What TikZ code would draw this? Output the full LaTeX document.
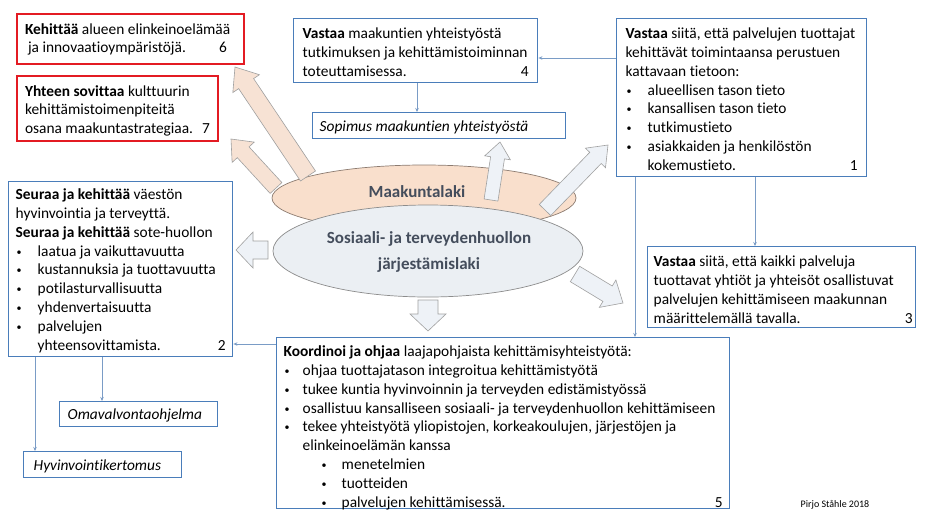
\documentclass[tikz,border=0pt]{standalone}
\usepackage{fontspec}
\setmainfont{Carlito}[Ligatures={NoCommon}]
\usetikzlibrary{calc,arrows.meta}
\definecolor{bboxc}{HTML}{4A7DBA}
\definecolor{rboxc}{HTML}{E31B23}
\definecolor{connc}{HTML}{7A9CC6}
\definecolor{orfill}{HTML}{F9DFCC}
\definecolor{oredge}{HTML}{8C7B70}
\definecolor{gyfill}{HTML}{EBEFF3}
\definecolor{gyedge}{HTML}{8C8C8C}
\definecolor{elltxt}{HTML}{444D5C}
\definecolor{peach}{HTML}{F7E2D4}
\definecolor{pale}{HTML}{EEF2F7}
\definecolor{arredge}{HTML}{A0A0A0}
\newcommand\bx[4]{\parbox[c][#2pt][t]{#1pt}{\raggedright\rule{0pt}{#3pt}#4}}
\newcommand\bl[1]{\makebox[#1][l]{\hspace*{1pt}\raisebox{1pt}{\fontsize{10}{10}\selectfont\textbullet}}}
\newcommand\barrow[6]{%
  \coordinate (bT) at #1; \coordinate (bH) at #2;
  \coordinate (bN) at ($(bH)!#5pt!(bT)$);
  \draw[#6] ($(bT)!#3pt!90:(bH)$) -- ($(bN)!#3pt!90:(bH)$) -- ($(bN)!#4pt!90:(bH)$) -- (bH)
    -- ($(bN)!#4pt!-90:(bH)$) -- ($(bN)!#3pt!-90:(bH)$) -- ($(bT)!#3pt!-90:(bH)$) -- cycle;}
\tikzset{
  bluebox/.style={draw=bboxc, line width=1.4pt, anchor=north west, inner xsep=8pt, inner ysep=0pt,
    fill=white, font=\fontsize{15.4}{18.8}\selectfont},
  redbox/.style={bluebox, draw=rboxc, line width=2pt},
  conn/.style={draw=connc, line width=0.7pt, -{Stealth[length=4pt,width=3.5pt]}},
  fatpeach/.style={draw=arredge, line width=0.6pt, fill=peach},
  fatpale/.style={draw=arredge, line width=0.6pt, fill=pale},
  elltext/.style={font=\fontsize{17}{26}\selectfont\bfseries, text=elltxt, align=center}
}
\begin{document}
\begin{tikzpicture}[x=1pt,y=-1pt]
\useasboundingbox (0,0) rectangle (925,520);
\fill[white] (0,0) rectangle (925,520);

% ellipses and block arrows
\draw[fill=orfill, draw=oredge, line width=0.7pt] (424,198) ellipse [x radius=152pt, y radius=33pt];
\barrow{(308,176)}{(235,67)}{9}{16}{20}{fatpeach}
\barrow{(276,188)}{(231,139)}{8}{15}{18}{fatpeach}
\barrow{(491,200)}{(500,142)}{7}{13}{16}{fatpale}
\barrow{(545,210)}{(608,145)}{8}{14}{18}{fatpale}
\draw[fill=gyfill, draw=gyedge, line width=0.7pt] (428,251) ellipse [x radius=155pt, y radius=46pt];
\barrow{(268,250)}{(236,250)}{9}{18}{17}{fatpale}
\barrow{(428,300)}{(428,331)}{10}{18}{17}{fatpale}
\barrow{(575,274)}{(623,303)}{9}{16}{18}{fatpale}
\node[elltext] (mk) at (417,192) {Maakuntalaki};
\node[elltext] (sj) at (429,252) {Sosiaali- ja terveydenhuollon\\järjestämislaki};

% boxes
\node[redbox] (b6) at (16,13) {\bx{211}{50}{20}{\textbf{Kehittää} alueen elinkeinoelämää\\\hspace*{3pt}ja innovaatioympäristöjä.\hfill 6\hspace*{9pt}}};
\node[redbox] (b7) at (16,75) {\bx{185}{65}{20}{\textbf{Yhteen sovittaa} kulttuurin\\kehittämistoimenpiteitä\\osana maakuntastrategiaa.\hfill 7}};
\node[bluebox, inner xsep=9pt] (b4) at (293,18) {\bx{226}{64}{20}{\textbf{Vastaa} maakuntien yhteistyöstä\\tutkimuksen ja kehittämistoiminnan\\toteuttamisessa.\hfill 4}};
\node[bluebox, inner xsep=7pt] (sop) at (312,112) {\bx{239}{26}{19}{\textit{Sopimus maakuntien yhteistyöstä}}};
\node[bluebox, inner xsep=9pt] (b1) at (616,18) {\bx{232}{158}{20}{\textbf{Vastaa} siitä, että palvelujen tuottajat\\kehittävät toimintaansa perustuen\\kattavaan tietoon:\\
\bl{22pt}alueellisen tason tieto\\\bl{22pt}kansallisen tason tieto\\\bl{22pt}tutkimustieto\\\bl{22pt}asiakkaiden ja henkilöstön\\\hspace*{22pt}kokemustieto.\hfill 1}};
\node[bluebox, inner xsep=7pt] (b2) at (8,181) {\bx{210}{175}{18}{\textbf{Seuraa ja kehittää} väestön\\hyvinvointia ja terveyttä.\\\textbf{Seuraa ja kehittää} sote-huollon\\
\bl{22pt}laatua ja vaikuttavuutta\\\bl{22pt}kustannuksia ja tuottavuutta\\\bl{22pt}potilasturvallisuutta\\\bl{22pt}yhdenvertaisuutta\\\bl{22pt}palvelujen\\\hspace*{22pt}yhteensovittamista.\hfill 2}};
\node[bluebox, inner xsep=6pt] (b3) at (647,246) {\bx{256}{81}{20}{\textbf{Vastaa} siitä, että kaikki palveluja\\tuottavat yhtiöt ja yhteisöt osallistuvat\\palvelujen kehittämiseen maakunnan\\määrittelemällä tavalla.\hfill 3\hspace*{-3pt}}};
\node[bluebox, inner xsep=7pt] (b5) at (276,337) {\bx{439}{171}{19}{\textbf{Koordinoi ja ohjaa} laajapohjaista kehittämisyhteistyötä:\\
\bl{19pt}ohjaa tuottajatason integroitua kehittämistyötä\\
\bl{19pt}tukee kuntia hyvinvoinnin ja terveyden edistämistyössä\\
\bl{19pt}osallistuu kansalliseen sosiaali- ja terveydenhuollon kehittämiseen\\
\bl{19pt}tekee yhteistyötä yliopistojen, korkeakoulujen, järjestöjen ja\\
\hspace*{19pt}elinkeinoelämän kanssa\\
\hspace*{37pt}\bl{21pt}menetelmien\\
\hspace*{37pt}\bl{21pt}tuotteiden\\
\hspace*{37pt}\bl{21pt}palvelujen kehittämisessä.\hfill 5}};
\node[bluebox, inner xsep=8pt] (om) at (59,401) {\bx{142}{25}{18}{\textit{Omavalvontaohjelma}}};
\node[bluebox, inner xsep=10pt] (hy) at (23,451) {\bx{138}{26}{19}{\textit{Hyvinvointikertomus}}};
\node[font=\fontsize{10}{12}\selectfont] (cr) at (835,505) {Pirjo Ståhle 2018};

% connectors
\coordinate (c14) at ([yshift=-40pt]b1.north west);
\draw[conn] (c14) -- (c14 -| b4.east);
\coordinate (c4s) at ([xshift=124pt]b4.south west);
\draw[conn] (c4s) -- (c4s |- sop.north);
\coordinate (c15) at ([xshift=19pt]b1.south west);
\draw[conn] (c15) -- (c15 |- b5.north);
\coordinate (c13) at ([xshift=139pt]b1.south west);
\draw[conn] (c13) -- (c13 |- b3.north);
\coordinate (c52) at ([yshift=-7pt]b5.north west);
\draw[conn] (c52) -- (c52 -| b2.east);
\coordinate (c2h) at ([xshift=27pt]b2.south west);
\draw[conn] (c2h) -- (c2h |- hy.north);
\coordinate (c2o) at ([xshift=94pt]b2.south west);
\draw[conn] (c2o) -- (c2o |- om.north);
\end{tikzpicture}
\end{document}
